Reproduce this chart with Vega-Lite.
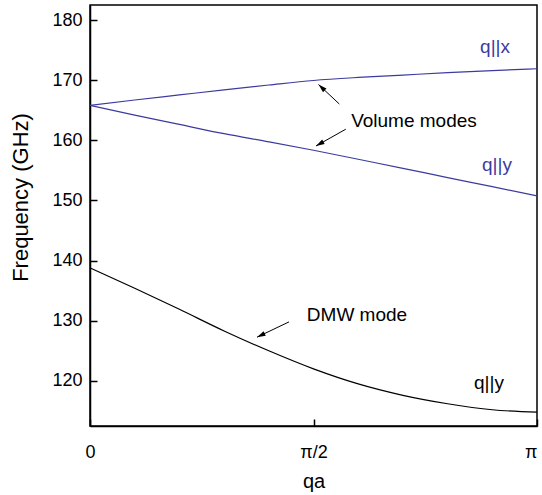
{
  "$schema": "https://vega.github.io/schema/vega-lite/v6.json",
  "width": 447,
  "height": 421,
  "autosize": {"type": "none"},
  "padding": {"left": 90, "top": 5, "right": 5, "bottom": 69},
  "background": "white",
  "config": {
    "font": "Liberation Sans",
    "view": {"stroke": "black", "strokeWidth": 1.5},
    "axis": {"grid": false, "domainColor": "black", "domainWidth": 1.5, "tickColor": "black", "tickWidth": 1.5, "tickSize": -7, "labelColor": "black", "titleColor": "black", "labelFont": "Liberation Sans", "titleFont": "Liberation Sans", "titleFontWeight": "normal", "labelFontSize": 18, "titleFontSize": 20}
  },
  "datasets": {
    "curves": [
      {"qa": 0.0, "freq": 165.8, "mode": "q||x"},
      {"qa": 0.3142, "freq": 166.7, "mode": "q||x"},
      {"qa": 0.6283, "freq": 167.55, "mode": "q||x"},
      {"qa": 0.9425, "freq": 168.4, "mode": "q||x"},
      {"qa": 1.2566, "freq": 169.2, "mode": "q||x"},
      {"qa": 1.5708, "freq": 169.95, "mode": "q||x"},
      {"qa": 1.885, "freq": 170.45, "mode": "q||x"},
      {"qa": 2.1991, "freq": 170.85, "mode": "q||x"},
      {"qa": 2.5133, "freq": 171.25, "mode": "q||x"},
      {"qa": 2.8274, "freq": 171.6, "mode": "q||x"},
      {"qa": 3.1416, "freq": 171.9, "mode": "q||x"},
      {"qa": 0.0, "freq": 165.8, "mode": "q||y volume"},
      {"qa": 0.3142, "freq": 164.2, "mode": "q||y volume"},
      {"qa": 0.6283, "freq": 162.65, "mode": "q||y volume"},
      {"qa": 0.9425, "freq": 161.1, "mode": "q||y volume"},
      {"qa": 1.2566, "freq": 159.75, "mode": "q||y volume"},
      {"qa": 1.5708, "freq": 158.35, "mode": "q||y volume"},
      {"qa": 1.885, "freq": 156.85, "mode": "q||y volume"},
      {"qa": 2.1991, "freq": 155.35, "mode": "q||y volume"},
      {"qa": 2.5133, "freq": 153.8, "mode": "q||y volume"},
      {"qa": 2.8274, "freq": 152.3, "mode": "q||y volume"},
      {"qa": 3.1416, "freq": 150.75, "mode": "q||y volume"},
      {"qa": 0.0, "freq": 138.8, "mode": "DMW"},
      {"qa": 0.3142, "freq": 135.4, "mode": "DMW"},
      {"qa": 0.6283, "freq": 131.9, "mode": "DMW"},
      {"qa": 0.9425, "freq": 128.3, "mode": "DMW"},
      {"qa": 1.2566, "freq": 125.0, "mode": "DMW"},
      {"qa": 1.5708, "freq": 122.0, "mode": "DMW"},
      {"qa": 1.885, "freq": 119.5, "mode": "DMW"},
      {"qa": 2.1991, "freq": 117.6, "mode": "DMW"},
      {"qa": 2.5133, "freq": 116.2, "mode": "DMW"},
      {"qa": 2.8274, "freq": 115.2, "mode": "DMW"},
      {"qa": 3.1416, "freq": 114.8, "mode": "DMW"}
    ],
    "labels": [
      {"qa": 2.847, "freq": 174.6, "text": "q||x", "kind": "volume"},
      {"qa": 2.86, "freq": 154.9, "text": "q||y", "kind": "volume"},
      {"qa": 2.804, "freq": 118.7, "text": "q||y", "kind": "dmw"},
      {"qa": 2.277, "freq": 162.2, "text": "Volume modes", "kind": "note"},
      {"qa": 1.8765, "freq": 130.0, "text": "DMW mode", "kind": "note"}
    ],
    "arrows": [
      {"qa": 1.7521, "freq": 166.04, "qa_tip": 1.606, "freq_tip": 169.28, "heading": 313},
      {"qa": 1.7978, "freq": 161.85, "qa_tip": 1.5884, "freq_tip": 159.06, "heading": 240.6},
      {"qa": 1.3986, "freq": 129.81, "qa_tip": 1.1737, "freq_tip": 127.27, "heading": 244.4}
    ]
  },
  "layer": [
    {
      "data": {"name": "curves"},
      "mark": {"type": "line", "strokeWidth": 1.2, "interpolate": "monotone"},
      "encoding": {
        "x": {"field": "qa", "type": "quantitative", "scale": {"domain": [0, 3.14159], "nice": false, "zero": false},
          "axis": {"title": "qa", "values": [0, 1.5708, 3.14159], "labelExpr": "datum.value < 0.1 ? '0' : datum.value < 2 ? 'π/2' : 'π'", "labelAlign": {"expr": "datum.value > 3 ? 'right' : 'center'"}, "labelPadding": 24, "titleY": 61, "titleBaseline": "alphabetic", "labelFlush": false}},
        "y": {"field": "freq", "type": "quantitative", "scale": {"domain": [112.5, 182.5], "nice": false, "zero": false},
          "axis": {"title": "Frequency (GHz)", "titleFontSize": 22, "values": [120, 130, 140, 150, 160, 170, 180], "labelPadding": 15, "titleX": -63, "titleY": 192, "titleBaseline": "alphabetic"}},
        "detail": {"field": "mode"},
        "color": {"field": "mode", "type": "nominal", "scale": {"domain": ["q||x", "q||y volume", "DMW"], "range": ["#3b3b9f", "#3b3b9f", "#000000"]}, "legend": null}
      }
    },
    {
      "data": {"name": "arrows"},
      "mark": {"type": "rule", "color": "black", "strokeWidth": 1},
      "encoding": {
        "x": {"field": "qa", "type": "quantitative"},
        "y": {"field": "freq", "type": "quantitative"},
        "x2": {"field": "qa_tip"},
        "y2": {"field": "freq_tip"}
      }
    },
    {
      "data": {"name": "arrows"},
      "mark": {"type": "point", "shape": "M0,0L-0.5,1.7L0.5,1.7Z", "filled": true, "color": "black", "size": 100, "opacity": 1},
      "encoding": {
        "x": {"field": "qa_tip", "type": "quantitative"},
        "y": {"field": "freq_tip", "type": "quantitative"},
        "angle": {"field": "heading", "type": "quantitative", "scale": null}
      }
    },
    {
      "data": {"name": "labels"},
      "mark": {"type": "text", "fontSize": 19, "align": "center", "baseline": "alphabetic", "font": "Liberation Sans"},
      "encoding": {
        "x": {"field": "qa", "type": "quantitative"},
        "y": {"field": "freq", "type": "quantitative"},
        "text": {"field": "text"},
        "color": {"field": "kind", "type": "nominal", "scale": {"domain": ["volume", "dmw", "note"], "range": ["#3b3b9f", "#000000", "#000000"]}, "legend": null}
      }
    }
  ],
  "resolve": {"scale": {"color": "independent"}}
}
